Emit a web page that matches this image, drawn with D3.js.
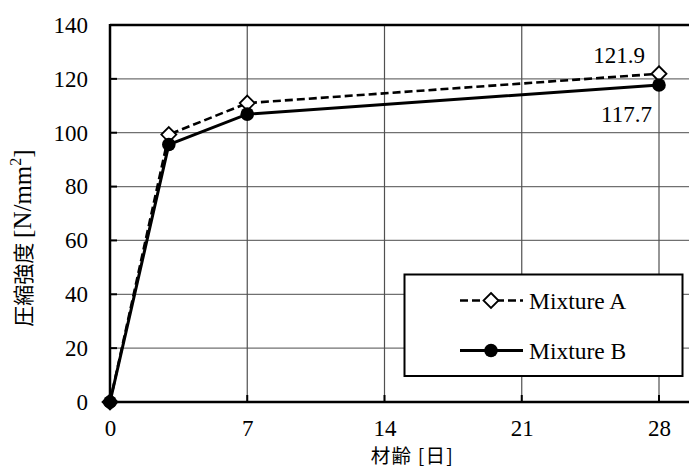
<!DOCTYPE html>
<html><head><meta charset="utf-8">
<script src="https://cdn.jsdelivr.net/npm/d3@7"></script>
<style>body{margin:0;background:#fff}svg{display:block}</style>
</head><body>
<svg id="c" width="689" height="469"></svg>
<script>
const days = [0, 3, 7, 28];
const mixtureA = [0, 99.3, 111.0, 121.9];
const mixtureB = [0, 95.6, 106.9, 117.7];
const seriesNames = ["Mixture A", "Mixture B"];
const xTicks = [0, 7, 14, 21, 28];
const yTicks = [0, 20, 40, 60, 80, 100, 120, 140];
const yTitleCJK = "圧縮強度 ";
const yTitleUnit = "[N/mm";
const xTitle = "材齢 [日]";

const W = 689, H = 469;
const L = 110, T = 25, B = 402;
const serif = "'Liberation Serif', serif";
const cjk = "'Noto Sans CJK JP', sans-serif";
const svg = d3.select("#c");
const x = d3.scaleLinear().domain([0, 28]).range([L, 659]);
const y = d3.scaleLinear().domain([0, 140]).range([B, T]);

// grid
const g = svg.append("g");
g.selectAll(".hg").data(yTicks.filter(v => v > 0 && v < 140)).enter().append("line")
  .attr("x1", L).attr("x2", W).attr("y1", d => y(d)).attr("y2", d => y(d))
  .attr("stroke", "#707070").attr("stroke-width", 1.2);
g.selectAll(".vg").data(xTicks.filter(v => v > 0)).enter().append("line")
  .attr("x1", d => x(d)).attr("x2", d => x(d)).attr("y1", T).attr("y2", B)
  .attr("stroke", "#505050").attr("stroke-width", 1.2);

// axes via d3
const yAxis = d3.axisLeft(y).tickValues(yTicks).tickSize(0).tickPadding(22);
const ya = svg.append("g").attr("transform", `translate(${L},0)`).call(yAxis);
ya.select(".domain").remove();
ya.selectAll("text").attr("font-family", serif).attr("font-size", 23).attr("fill", "#000");
const xAxis = d3.axisBottom(x).tickValues(xTicks).tickSize(0).tickPadding(18);
const xa = svg.append("g").attr("transform", `translate(0,${B})`).call(xAxis);
xa.select(".domain").remove();
xa.selectAll("text").attr("font-family", serif).attr("font-size", 23).attr("fill", "#000");

// inner tick marks
svg.selectAll(".yt").data(yTicks).enter().append("line")
  .attr("x1", L).attr("x2", L + 7).attr("y1", d => y(d)).attr("y2", d => y(d))
  .attr("stroke", "#000").attr("stroke-width", 2);
svg.selectAll(".xt").data(xTicks).enter().append("line")
  .attr("x1", d => x(d)).attr("x2", d => x(d)).attr("y1", B).attr("y2", B - 7)
  .attr("stroke", "#000").attr("stroke-width", 2);

// frame lines
svg.append("line").attr("x1", L).attr("x2", W).attr("y1", T).attr("y2", T).attr("stroke", "#000").attr("stroke-width", 2.5);
svg.append("line").attr("x1", L).attr("x2", L).attr("y1", T - 1).attr("y2", B + 1).attr("stroke", "#000").attr("stroke-width", 2.5);
svg.append("line").attr("x1", L).attr("x2", W).attr("y1", B).attr("y2", B).attr("stroke", "#000").attr("stroke-width", 2.5);

// series
const dataA = days.map((d, i) => [d, mixtureA[i]]);
const dataB = days.map((d, i) => [d, mixtureB[i]]);
const line = d3.line().x(d => x(d[0])).y(d => y(d[1]));
const diamond = (cx, cy, r) => `M${cx},${cy - r}L${cx + r},${cy}L${cx},${cy + r}L${cx - r},${cy}Z`;

svg.append("path").attr("d", line(dataA)).attr("fill", "none").attr("stroke", "#000")
  .attr("stroke-width", 2.6).attr("stroke-dasharray", "8,4");
svg.selectAll(".ma").data(dataA).enter().append("path")
  .attr("d", d => diamond(x(d[0]), y(d[1]), 7.5)).attr("fill", "#fff").attr("stroke", "#000").attr("stroke-width", 1.8);
svg.append("path").attr("d", line(dataB)).attr("fill", "none").attr("stroke", "#000").attr("stroke-width", 3);
svg.selectAll(".mb").data(dataB).enter().append("circle")
  .attr("cx", d => x(d[0])).attr("cy", d => y(d[1])).attr("r", 6.8).attr("fill", "#000");

// value labels
const lastA = dataA[dataA.length - 1], lastB = dataB[dataB.length - 1];
svg.append("text").attr("x", x(lastA[0]) - 14).attr("y", y(lastA[1]) - 11).attr("text-anchor", "end")
  .attr("font-family", serif).attr("font-size", 23).text(lastA[1].toFixed(1));
svg.append("text").attr("x", x(lastB[0]) - 7).attr("y", y(lastB[1]) + 37).attr("text-anchor", "end")
  .attr("font-family", serif).attr("font-size", 23).text(lastB[1].toFixed(1));

// legend
const lg = svg.append("g");
lg.append("rect").attr("x", 404.5).attr("y", 274.5).attr("width", 278).attr("height", 101.5)
  .attr("fill", "#fff").attr("stroke", "#000").attr("stroke-width", 2);
const ly = [300.5, 350.5];
lg.append("line").attr("x1", 460).attr("x2", 523).attr("y1", ly[0]).attr("y2", ly[0])
  .attr("stroke", "#000").attr("stroke-width", 2.6).attr("stroke-dasharray", "8,4");
lg.append("path").attr("d", diamond(491, ly[0], 7.5)).attr("fill", "#fff").attr("stroke", "#000").attr("stroke-width", 1.8);
lg.append("line").attr("x1", 460).attr("x2", 523).attr("y1", ly[1]).attr("y2", ly[1])
  .attr("stroke", "#000").attr("stroke-width", 3);
lg.append("circle").attr("cx", 491).attr("cy", ly[1]).attr("r", 6.8).attr("fill", "#000");
seriesNames.forEach((n, i) => {
  lg.append("text").attr("x", 529).attr("y", ly[i]).attr("dy", "0.35em")
    .attr("font-family", serif).attr("font-size", 23.5).text(n);
});

// axis titles
const yt = svg.append("text").attr("transform", "translate(31,238) rotate(-90)").attr("text-anchor", "middle");
yt.append("tspan").attr("font-family", cjk).attr("font-size", 21).text(yTitleCJK);
yt.append("tspan").attr("font-family", serif).attr("font-size", 25).text(yTitleUnit);
yt.append("tspan").attr("font-family", serif).attr("font-size", 16).attr("dy", -10).text("2");
yt.append("tspan").attr("font-family", serif).attr("font-size", 25).attr("dy", 10).text("]");
svg.append("text").attr("x", (L + W) / 2 + 13).attr("y", 463).attr("text-anchor", "middle")
  .attr("font-family", cjk).attr("font-size", 19.5).attr("letter-spacing", 1.2).text(xTitle);
</script>
</body></html>
